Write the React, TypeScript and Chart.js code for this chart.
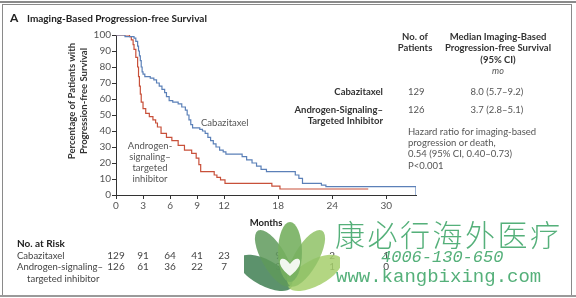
import React, { useEffect, useRef } from 'react';
import { Chart, registerables } from 'chart.js';

Chart.register(...registerables);

// ---- Data ----
const cabMonths = [0, 1.0, 2.0, 2.2, 2.4, 2.5, 2.6, 2.7, 2.8, 2.9, 3.0, 3.2, 3.8, 4.2, 4.5, 4.8, 5.1, 5.4, 5.6, 5.9, 6.3, 6.9, 7.3, 7.7, 7.9, 8.1, 8.3, 8.5, 9.3, 9.6, 9.9, 10.2, 10.5, 10.8, 11.1, 11.5, 11.9, 12.2, 14.0, 14.5, 15.1, 15.6, 16.1, 16.7, 19.9, 20.3, 20.7, 22.8, 23.3, 33.3, 33.3];
const cabPct = [100, 99, 98, 96, 93, 90, 87, 84, 80, 77, 75.5, 74, 73, 72, 70, 68, 66, 64, 61.5, 59, 58, 57, 55, 53, 50, 47, 44, 42, 41, 40, 38.5, 36, 34, 32, 30, 28, 27, 25.6, 24, 22, 20, 18, 16, 14.6, 12.5, 10.4, 7.3, 6.2, 5.2, 5.2, 0];

const astiMonths = [0, 1.5, 1.7, 1.9, 2.0, 2.2, 2.4, 2.5, 2.6, 2.7, 2.8, 3.0, 3.3, 3.7, 4.1, 4.4, 4.6, 5.0, 5.6, 6.2, 6.9, 7.6, 8.4, 8.9, 9.2, 9.4, 10.9, 11.2, 11.6, 12.1, 17.3, 18.2, 28.0];
const astiPct = [100, 99, 97, 94, 91, 86, 80, 74, 68, 63, 58, 54, 51, 49, 47, 45, 42.5, 38.5, 36, 34, 31, 28, 26, 23, 19, 14.6, 12.5, 11, 9.4, 7.3, 5.5, 3.75, 3.75];

const xTickMonths = [0, 3, 6, 9, 12, 18, 24, 30];
const riskCab = [129, 91, 64, 41, 23, 9, 2, 1];
const riskAsti = [126, 61, 36, 22, 7, 3, 1, 0];

const FONT = 'Lato, "Open Sans", sans-serif';
const BLUE = '#5b80b8';
const RED = '#c8503a';

const riskPlugin = {
  id: 'riskNumbers',
  afterDraw(chart: any) {
    const ctx = chart.ctx;
    const xs = chart.scales.x;
    ctx.save();
    ctx.font = `10px ${FONT}`;
    ctx.fillStyle = '#444';
    ctx.textAlign = 'center';
    ctx.textBaseline = 'middle';
    xTickMonths.forEach((m, i) => {
      const px = xs.getPixelForValue(m);
      ctx.fillText(String(riskCab[i]), px, 256);
      ctx.fillText(String(riskAsti[i]), px, 267);
    });
    ctx.restore();
  },
};

function T(props: { x: number; y: number; align?: 'left' | 'right' | 'center'; bold?: boolean; italic?: boolean; size?: number; color?: string; children: any }) {
  const { x, y, align = 'left', bold, italic, size = 9.5, color = '#333', children } = props;
  const style: any = {
    position: 'absolute',
    top: y - 7,
    lineHeight: '14px',
    height: 14,
    whiteSpace: 'nowrap',
    fontFamily: FONT,
    fontSize: size,
    fontWeight: bold ? 700 : 400,
    fontStyle: italic ? 'italic' : 'normal',
    color,
  };
  if (align === 'left') style.left = x;
  else if (align === 'right') { style.right = 576 - x; style.textAlign = 'right'; }
  else { style.left = x - 150; style.width = 300; style.textAlign = 'center'; }
  return <div style={style}>{children}</div>;
}

export default function App() {
  const canvasRef = useRef<HTMLCanvasElement | null>(null);

  useEffect(() => {
    const canvas = canvasRef.current;
    if (!canvas) return;
    const chart = new Chart(canvas, {
      type: 'line',
      data: {
        datasets: [
          {
            label: 'Cabazitaxel',
            data: cabMonths.map((m, i) => ({ x: m, y: cabPct[i] })),
            borderColor: BLUE,
            borderWidth: 1.2,
            pointRadius: 0,
            stepped: 'before',
            fill: false,
          },
          {
            label: 'Androgen-signaling–targeted inhibitor',
            data: astiMonths.map((m, i) => ({ x: m, y: astiPct[i] })),
            borderColor: RED,
            borderWidth: 1.2,
            pointRadius: 0,
            stepped: 'before',
            fill: false,
          },
        ],
      },
      options: {
        animation: false,
        responsive: false,
        maintainAspectRatio: false,
        devicePixelRatio: 1,
        layout: { padding: { left: 0, top: 35, right: 160, bottom: 69 } },
        plugins: { legend: { display: false }, tooltip: { enabled: false }, title: { display: false } },
        scales: {
          x: {
            type: 'linear',
            min: 0,
            max: 33.3,
            afterBuildTicks: (scale: any) => {
              scale.ticks = xTickMonths.map((v) => ({ value: v }));
            },
            afterFit: (scale: any) => {
              scale.height = 34;
            },
            ticks: { font: { family: FONT, size: 10 }, color: '#555', padding: 1, maxRotation: 0, autoSkip: false },
            grid: { display: true, drawOnChartArea: false, drawTicks: true, tickLength: 4, color: '#333', lineWidth: 1 },
            border: { display: true, color: '#333', width: 1 },
            title: { display: true, text: 'Months', font: { family: FONT, size: 9.5, weight: 'bold' }, color: '#222', padding: { top: 0, bottom: 0 } },
          },
          y: {
            type: 'linear',
            min: 0,
            max: 100,
            afterFit: (scale: any) => {
              scale.width = 116;
            },
            ticks: { stepSize: 10, font: { family: FONT, size: 10 }, color: '#555', padding: 1 },
            grid: { display: true, drawOnChartArea: false, drawTicks: true, tickLength: 4, color: '#333', lineWidth: 1 },
            border: { display: true, color: '#333', width: 1 },
          },
        },
      },
      plugins: [riskPlugin],
    } as any);
    return () => chart.destroy();
  }, []);

  return (
    <div style={{ position: 'absolute', left: 0, top: 0, width: 576, height: 298, background: '#fff', overflow: 'hidden', fontFamily: FONT }}>
      {/* frame */}
      <div style={{ position: 'absolute', left: 0, top: 1, width: 576, height: 2, background: '#8a8a8a' }} />
      <div style={{ position: 'absolute', left: 2, top: 4, width: 568, height: 290, border: '1px solid #8a8a8a' }} />
      <div style={{ position: 'absolute', left: 0, top: 295, width: 576, height: 2, background: '#9a9a9a' }} />

      <canvas ref={canvasRef} width={576} height={298} style={{ position: 'absolute', left: 0, top: 0, width: 576, height: 298 }} />

      {/* panel title */}
      <T x={10} y={18} bold size={12} color="#222">A</T>
      <T x={27} y={18} bold size={10} color="#222">Imaging-Based Progression-free Survival</T>

      {/* y axis title */}
      <div style={{ position: 'absolute', left: 79 - 100, top: 101 - 13, width: 200, height: 26, transform: 'rotate(-90deg)', transformOrigin: '100px 13px', textAlign: 'center', fontFamily: FONT, fontSize: 9.5, fontWeight: 700, lineHeight: '12px', color: '#333' }}>
        Percentage of Patients with<br />Progression-free Survival
      </div>

      {/* curve labels */}
      <T x={201} y={123} size={9.5} color="#555">Cabazitaxel</T>
      <T x={150} y={146} align="center" size={9.5} color="#555">Androgen-</T>
      <T x={150} y={157} align="center" size={9.5} color="#555">signaling–</T>
      <T x={150} y={168} align="center" size={9.5} color="#555">targeted</T>
      <T x={150} y={179} align="center" size={9.5} color="#555">inhibitor</T>

      {/* right-hand table */}
      <T x={415} y={37} align="center" bold size={9.5}>No. of</T>
      <T x={415} y={48} align="center" bold size={9.5}>Patients</T>
      <T x={498} y={37} align="center" bold size={9.5}>Median Imaging-Based</T>
      <T x={498} y={48} align="center" bold size={9.5}>Progression-free Survival</T>
      <T x={498} y={60} align="center" bold size={9.5}>(95% CI)</T>
      <T x={498} y={71} align="center" italic size={9} color="#555">mo</T>
      <T x={383} y={92} align="right" bold size={9.5}>Cabazitaxel</T>
      <T x={383} y={110} align="right" bold size={9.5}>Androgen-Signaling–</T>
      <T x={383} y={121} align="right" bold size={9.5}>Targeted Inhibitor</T>
      <T x={408} y={92} size={9.5} color="#555">129</T>
      <T x={408} y={110} size={9.5} color="#555">126</T>
      <T x={497} y={92} align="center" size={9.5} color="#555">8.0 (5.7–9.2)</T>
      <T x={497} y={110} align="center" size={9.5} color="#555">3.7 (2.8–5.1)</T>
      <T x={408} y={132} size={9.5} color="#555">Hazard ratio for imaging-based</T>
      <T x={408} y={143} size={9.5} color="#555">progression or death,</T>
      <T x={408} y={154} size={9.5} color="#555">0.54 (95% CI, 0.40–0.73)</T>
      <T x={408} y={166} size={9.5} color="#555">P&lt;0.001</T>

      {/* number at risk */}
      <T x={17} y={243} bold size={10} color="#222">No. at Risk</T>
      <T x={17} y={256} size={9.5} color="#444">Cabazitaxel</T>
      <T x={17} y={267} size={9.5} color="#444">Androgen-signaling–</T>
      <T x={27} y={279} size={9.5} color="#444">targeted inhibitor</T>

      {/* watermark */}
      <svg style={{ position: 'absolute', left: 244, top: 212 }} width={96} height={80}>
        <g transform="translate(46,74)">
          <ellipse cx={0} cy={-28} rx={13} ry={30} fill="#3f7f52" opacity={0.85} transform="rotate(-62)" />
          <ellipse cx={0} cy={-28} rx={13} ry={30} fill="#a6cf6c" opacity={0.85} transform="rotate(62)" />
          <ellipse cx={0} cy={-32} rx={12} ry={32} fill="#5f9a5c" opacity={0.85} transform="rotate(-30)" />
          <ellipse cx={0} cy={-32} rx={12} ry={32} fill="#8fc266" opacity={0.85} transform="rotate(30)" />
          <ellipse cx={0} cy={-34} rx={12} ry={30} fill="#77b060" opacity={0.9} />
          <path d="M0,-22 C-8,-34 -18,-24 0,-10 C18,-24 8,-34 0,-22 Z" fill="#ffffff" opacity={0.9} />
        </g>
      </svg>
      <div style={{ position: 'absolute', left: 335, top: 216, fontFamily: '"Noto Sans CJK SC", sans-serif', fontSize: 30, fontWeight: 300, lineHeight: '34px', letterSpacing: 2.5, color: '#55b07a', whiteSpace: 'nowrap' }}>康必行海外医疗</div>
      <div style={{ position: 'absolute', left: 381, top: 248, fontFamily: '"Liberation Mono", monospace', fontSize: 17, fontStyle: 'italic', lineHeight: '20px', color: '#55b07a', whiteSpace: 'nowrap' }}>4006-130-650</div>
      <div style={{ position: 'absolute', left: 336, top: 266, fontFamily: '"Liberation Mono", monospace', fontSize: 19, lineHeight: '22px', color: '#55b07a', whiteSpace: 'nowrap' }}>www.kangbixing.com</div>
    </div>
  );
}
